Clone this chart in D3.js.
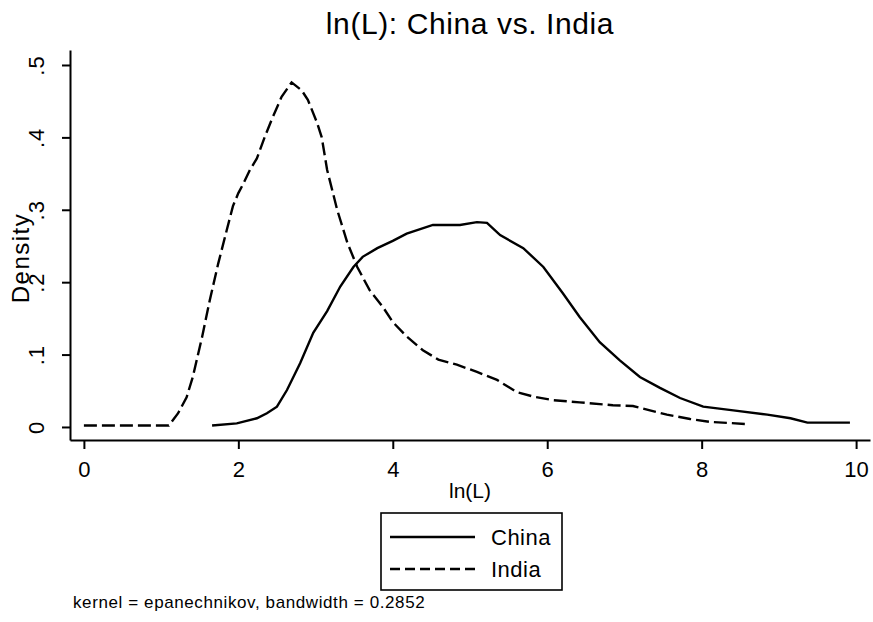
<!DOCTYPE html>
<html>
<head>
<meta charset="utf-8">
<script src="https://cdn.jsdelivr.net/npm/d3@7"></script>
<style>
  body { margin: 0; background: #fff; }
  svg { display: block; font-family: "Liberation Sans", Arial, Helvetica, sans-serif; }
</style>
</head>
<body>
<svg id="chart" width="873" height="622"></svg>
<script>
(function () {

    // tick values
    let xTicks = [0, 2, 4, 6, 8, 10];
    let yTicks = [0, 0.1, 0.2, 0.3, 0.4, 0.5];

    // kernel density estimates
    let chinaX = [1.66, 1.98, 2.24, 2.37, 2.5, 2.63, 2.8, 2.97, 3.15, 3.32, 3.49, 3.61, 3.8, 4.0, 4.18,
        4.52, 4.87, 5.09, 5.22, 5.39, 5.69, 5.95, 6.2, 6.42, 6.68, 6.94, 7.2, 7.46, 7.72, 8.02,
        8.41, 8.85, 9.15, 9.37, 9.92];
    let chinaY = [0.002, 0.005, 0.012, 0.019, 0.028, 0.051, 0.088, 0.13, 0.16, 0.194, 0.221, 0.235, 0.247, 0.257, 0.267,
        0.279, 0.279, 0.283, 0.282, 0.265, 0.247, 0.221, 0.185, 0.152, 0.117, 0.092, 0.069, 0.054, 0.04, 0.028,
        0.023, 0.017, 0.012, 0.006, 0.006];

    let indiaX = [0, 0.5, 1.1, 1.22, 1.33, 1.41, 1.53, 1.63, 1.74, 1.85, 1.93, 2.0, 2.06, 2.15, 2.24, 2.34,
        2.43, 2.56, 2.69, 2.82, 2.9, 3.02, 3.08, 3.15, 3.28, 3.41, 3.54, 3.7, 3.87, 4.0, 4.18, 4.39,
        4.59, 4.83, 5.09, 5.35, 5.61, 5.82, 6.08, 6.42, 6.85, 7.11, 7.33, 7.55, 7.85, 8.11, 8.59];
    let indiaY = [0.002, 0.002, 0.002, 0.019, 0.041, 0.069, 0.124, 0.175, 0.226, 0.272, 0.305, 0.323, 0.335, 0.355, 0.371, 0.40,
        0.424, 0.456, 0.476, 0.465, 0.452, 0.42, 0.40, 0.355, 0.30, 0.255, 0.221, 0.189, 0.166, 0.145, 0.125, 0.106,
        0.093, 0.086, 0.076, 0.065, 0.048, 0.042, 0.037, 0.034, 0.030, 0.029, 0.023, 0.017, 0.011, 0.007, 0.004];

    let seriesNames = ["China", "India"];

    let series = [
        { name: seriesNames[0], dash: null, values: chinaX.map((x, i) => ({ x: x, y: chinaY[i] })) },
        { name: seriesNames[1], dash: "13,5", values: indiaX.map((x, i) => ({ x: x, y: indiaY[i] })) }
    ];

    let canvas = d3.select("#chart");

    let xScale = d3.scaleLinear().domain([-0.18, 10.18]).range([70, 870]);
    let yScale = d3.scaleLinear().domain([-0.018, 0.5207]).range([440, 50]);

    let fmtY = d => d === 0 ? "0" : d3.format(".1f")(d).replace(/^0/, "");

    // x axis
    let gx = canvas.append("g")
        .attr("transform", `translate(0, ${yScale.range()[0]})`)
        .call(d3.axisBottom(xScale).tickValues(xTicks).tickSize(9).tickSizeOuter(0));
    gx.select(".domain").attr("stroke-width", 2);
    gx.selectAll(".tick line").attr("stroke-width", 2);
    gx.selectAll(".tick text")
        .attr("y", 37).attr("dy", null)
        .attr("font-size", 22).attr("fill", "#000");

    // y axis
    let gy = canvas.append("g")
        .attr("transform", `translate(${xScale.range()[0]}, 0)`)
        .call(d3.axisLeft(yScale).tickValues(yTicks).tickFormat(fmtY).tickSize(8).tickSizeOuter(0));
    gy.select(".domain").attr("stroke-width", 2);
    gy.selectAll(".tick line").attr("stroke-width", 2);
    gy.selectAll(".tick text")
        .attr("x", null).attr("dy", null).attr("y", 0)
        .attr("transform", "translate(-26, 0) rotate(-90)")
        .attr("text-anchor", "middle")
        .attr("letter-spacing", 1)
        .attr("font-size", 22).attr("fill", "#000");

    // curves
    let line = d3.line().x(d => xScale(d.x)).y(d => yScale(d.y));
    canvas.append("g").selectAll("path")
        .data(series)
        .enter()
        .append("path")
        .attr("fill", "none")
        .attr("stroke", "#000")
        .attr("stroke-width", 2.4)
        .attr("stroke-dasharray", d => d.dash)
        .attr("d", d => line(d.values));

    // titles
    canvas.append("text")
        .attr("x", 470).attr("y", 34)
        .attr("text-anchor", "middle")
        .attr("font-size", 30)
        .attr("letter-spacing", 0.6)
        .text("ln(L): China vs. India");

    canvas.append("text")
        .attr("transform", "translate(29, 258) rotate(-90)")
        .attr("text-anchor", "middle")
        .attr("font-size", 24)
        .attr("letter-spacing", 1.5)
        .text("Density");

    canvas.append("text")
        .attr("x", 470).attr("y", 498)
        .attr("text-anchor", "middle")
        .attr("font-size", 21)
        .text("ln(L)");

    // legend
    let legend = canvas.append("g").attr("transform", "translate(381, 513)");
    legend.append("rect")
        .attr("width", 181).attr("height", 77)
        .attr("fill", "#fff").attr("stroke", "#000").attr("stroke-width", 1.6);
    let items = legend.selectAll("g.item")
        .data(series)
        .enter()
        .append("g")
        .attr("class", "item")
        .attr("transform", (d, i) => `translate(0, ${24 + i * 32})`);
    items.append("line")
        .attr("x1", 9).attr("x2", 94)
        .attr("stroke", "#000").attr("stroke-width", 2.4)
        .attr("stroke-dasharray", d => d.dash ? "10,5" : null);
    items.append("text")
        .attr("x", 110).attr("y", 8)
        .attr("font-size", 22)
        .attr("letter-spacing", 0.5)
        .text(d => d.name);

    // note
    canvas.append("text")
        .attr("x", 73).attr("y", 608)
        .attr("font-size", 17)
        .attr("letter-spacing", 0.6)
        .text("kernel = epanechnikov, bandwidth = 0.2852");

})();
</script>
</body>
</html>
